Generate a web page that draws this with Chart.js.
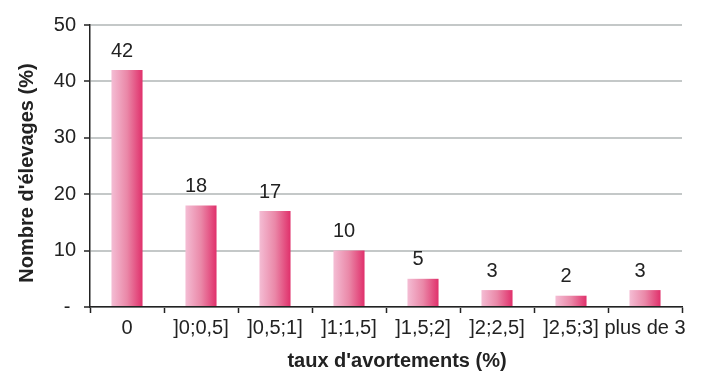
<!DOCTYPE html>
<html>
<head>
<meta charset="utf-8">
<script src="https://cdn.jsdelivr.net/npm/chart.js@4.4.1/dist/chart.umd.min.js"></script>
<style>
  html, body { margin: 0; padding: 0; background: #ffffff; }
  #wrap { width: 714px; height: 372px; }
</style>
</head>
<body>
<div id="wrap"><canvas id="chart" width="714" height="372"></canvas></div>
<script>
// Distribution des élevages selon le taux d'avortements
const categories = ['0', ']0;0,5]', ']0,5;1]', ']1;1,5]', ']1,5;2]', ']2;2,5]', ']2,5;3]', 'plus de 3'];
const elevages = [42, 18, 17, 10, 5, 3, 2, 3];
const yTicks = [0, 10, 20, 30, 40, 50];

const xTitle = "taux d'avortements (%)";
const yTitle = "Nombre d'élevages (%)";

const FONT = "'Liberation Sans', Arial, Helvetica, sans-serif";
const INK = '#222222';
const BAR_PCT = 0.42;

// Horizontal pink gradient across each bar
function barFill(ctx) {
  const chart = ctx.chart;
  const xs = chart.scales && chart.scales.x;
  if (!chart.chartArea || !xs || ctx.dataIndex === undefined) return '#e8789c';
  const cx = xs.getPixelForValue(ctx.dataIndex);
  const half = (xs.width / categories.length) * BAR_PCT / 2;
  const g = chart.ctx.createLinearGradient(cx - half, 0, cx + half, 0);
  g.addColorStop(0, '#f4bdd4');
  g.addColorStop(0.5, '#ea88a8');
  g.addColorStop(1, '#e0306b');
  return g;
}

// Value above every bar
const valueLabels = {
  id: 'valueLabels',
  afterDatasetsDraw(chart) {
    const ctx = chart.ctx;
    const meta = chart.getDatasetMeta(0);
    ctx.save();
    ctx.font = '20px ' + FONT;
    ctx.fillStyle = INK;
    ctx.textAlign = 'center';
    ctx.textBaseline = 'middle';
    meta.data.forEach((bar, i) => {
      ctx.fillText(String(elevages[i]), bar.x - 5, bar.y - 19);
    });
    ctx.restore();
  }
};

// Axis titles
const axisTitles = {
  id: 'axisTitles',
  afterDraw(chart) {
    const ctx = chart.ctx;
    const area = chart.chartArea;
    ctx.save();
    ctx.font = 'bold 20px ' + FONT;
    ctx.fillStyle = INK;
    ctx.textAlign = 'center';
    ctx.textBaseline = 'middle';
    ctx.fillText(xTitle, (area.left + area.right) / 2 + 11, 361);
    ctx.translate(27, (area.top + area.bottom) / 2 + 7);
    ctx.rotate(-Math.PI / 2);
    ctx.fillText(yTitle, 0, 0);
    ctx.restore();
  }
};

new Chart(document.getElementById('chart'), {
  type: 'bar',
  data: {
    labels: categories,
    datasets: [{
      data: elevages,
      backgroundColor: barFill,
      borderWidth: 0,
      categoryPercentage: 1,
      barPercentage: BAR_PCT
    }]
  },
  options: {
    responsive: false,
    animation: false,
    events: [],
    layout: { padding: { top: 25, right: 32, left: 0, bottom: 0 } },
    plugins: { legend: { display: false }, tooltip: { enabled: false } },
    scales: {
      x: {
        afterFit(scale) { scale.height = 65; },
        grid: {
          offset: true,
          drawOnChartArea: false,
          drawTicks: true,
          tickLength: 6,
          tickColor: INK,
          tickWidth: 1.5
        },
        border: { display: true, color: INK, width: 1.5 },
        ticks: {
          color: INK,
          font: { family: FONT, size: 20 },
          padding: 3,
          maxRotation: 0,
          minRotation: 0,
          autoSkip: false
        }
      },
      y: {
        min: 0,
        max: 50,
        afterFit(scale) { scale.width = 90; },
        afterBuildTicks(scale) { scale.ticks = yTicks.map(v => ({ value: v })); },
        grid: {
          color: '#c4c8c8',
          lineWidth: 2,
          drawTicks: true,
          tickLength: 6,
          tickColor: INK,
          tickWidth: 1.5
        },
        border: { display: true, color: INK, width: 1.5 },
        ticks: {
          color: INK,
          font: { family: FONT, size: 20 },
          padding: 8,
          callback: (v) => (v === 0 ? '- ' : String(v))
        }
      }
    }
  },
  plugins: [valueLabels, axisTitles]
});
</script>
</body>
</html>
